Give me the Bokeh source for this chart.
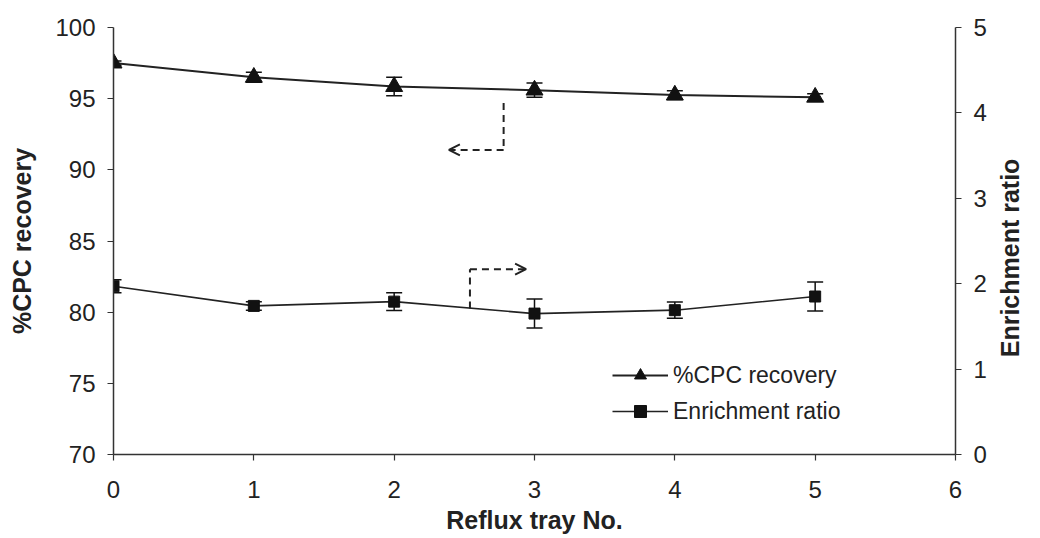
import math
from bokeh.plotting import figure
from bokeh.models import (Range1d, LinearAxis, Whisker, ColumnDataSource, Arrow,
                          OpenHead, Legend, LegendItem, FixedTicker)
from bokeh.embed import file_html
from bokeh.resources import INLINE

# ---- data ----
tray = [0, 1, 2, 3, 4, 5]
recovery = [97.5, 96.5, 95.85, 95.6, 95.25, 95.1]
recovery_err = [0.15, 0.35, 0.65, 0.5, 0.3, 0.25]
enrichment = [1.97, 1.74, 1.79, 1.65, 1.69, 1.85]
enrichment_err = [0.075, 0.05, 0.105, 0.17, 0.095, 0.17]
x_ticks = [0, 1, 2, 3, 4, 5, 6]
left_ticks = [70, 75, 80, 85, 90, 95, 100]
right_ticks = [0, 1, 2, 3, 4, 5]

FONT = "Liberation Sans"
INK = "#222222"

p = figure(width=1040, height=538, output_backend="svg", toolbar_location=None,
           x_range=Range1d(0, 6), y_range=Range1d(70, 100),
           min_border_left=113, min_border_right=85, min_border_top=27, min_border_bottom=84)
p.extra_y_ranges = {"right": Range1d(0, 5)}
p.grid.visible = False
p.outline_line_color = None
p.background_fill_color = "white"
p.border_fill_color = "white"

def style_axis(ax):
    ax.axis_line_color = "#333333"
    ax.axis_line_width = 1.5
    ax.major_tick_line_color = "#333333"
    ax.major_tick_line_width = 1.2
    ax.major_tick_out = 6
    ax.major_tick_in = 0
    ax.minor_tick_line_color = None
    ax.major_label_text_font = FONT
    ax.major_label_text_font_size = "24px"
    ax.major_label_text_color = INK
    ax.axis_label_text_font = FONT
    ax.axis_label_text_font_size = "25px"
    ax.axis_label_text_font_style = "bold"
    ax.axis_label_text_color = INK

p.xaxis.ticker = FixedTicker(ticks=x_ticks)
p.yaxis.ticker = FixedTicker(ticks=left_ticks)
p.xaxis.axis_label = "Reflux tray No."
p.yaxis.axis_label = "%CPC recovery"
style_axis(p.xaxis[0])
style_axis(p.yaxis[0])
p.xaxis.major_label_standoff = 20
p.xaxis.axis_label_standoff = 5
p.yaxis.major_label_standoff = 12
p.yaxis.axis_label_standoff = 16

# right axis title reads bottom-to-top; non-breaking spaces lift it to the reference position
ry = LinearAxis(y_range_name="right", axis_label="\u00a0" * 14 + "Enrichment ratio",
                ticker=FixedTicker(ticks=right_ticks))
style_axis(ry)
ry.major_label_standoff = 12
ry.axis_label_standoff = 20
ry.axis_label_orientation = math.pi / 2
ry.axis_label_align = "start"
p.add_layout(ry, "right")

src_r = ColumnDataSource(dict(x=tray, y=recovery,
                              lo=[v - e for v, e in zip(recovery, recovery_err)],
                              hi=[v + e for v, e in zip(recovery, recovery_err)]))
src_e = ColumnDataSource(dict(x=tray, y=enrichment,
                              lo=[v - e for v, e in zip(enrichment, enrichment_err)],
                              hi=[v + e for v, e in zip(enrichment, enrichment_err)]))

l1 = p.line("x", "y", source=src_r, line_color=INK, line_width=2)
w1 = Whisker(base="x", lower="lo", upper="hi", source=src_r, line_color="#111111", line_width=1.5)
w1.upper_head.size = 16; w1.lower_head.size = 16
w1.upper_head.line_width = 1.5; w1.lower_head.line_width = 1.5
w1.upper_head.line_color = "#111111"; w1.lower_head.line_color = "#111111"
p.add_layout(w1)
m1 = p.scatter("x", "y", source=src_r, marker="triangle", size=17, color="#111111")

l2 = p.line("x", "y", source=src_e, line_color=INK, line_width=1.6, y_range_name="right")
w2 = Whisker(base="x", lower="lo", upper="hi", source=src_e, line_color="#111111", line_width=1.5,
             y_range_name="right")
w2.upper_head.size = 16; w2.lower_head.size = 16
w2.upper_head.line_width = 1.5; w2.lower_head.line_width = 1.5
w2.upper_head.line_color = "#111111"; w2.lower_head.line_color = "#111111"
p.add_layout(w2)
m2 = p.scatter("x", "y", source=src_e, marker="square", size=11, color="#111111", y_range_name="right")

# dashed arrows pointing to the relevant axes
p.line([2.78, 2.78], [94.7, 91.4], line_dash="7 5", line_color=INK, line_width=2)
p.add_layout(Arrow(x_start=2.78, y_start=91.4, x_end=2.39, y_end=91.4,
                   line_dash="7 5", line_color=INK, line_width=2,
                   end=OpenHead(size=11, line_color=INK, line_width=2)))
p.line([2.54, 2.54], [1.71, 2.17], line_dash="7 5", line_color=INK, line_width=2,
       y_range_name="right")
p.add_layout(Arrow(x_start=2.54, y_start=2.17, x_end=2.94, y_end=2.17, y_range_name="right",
                   line_dash="7 5", line_color=INK, line_width=2,
                   end=OpenHead(size=11, line_color=INK, line_width=2)))

legend = Legend(items=[LegendItem(label="%CPC recovery", renderers=[l1, m1]),
                       LegendItem(label="Enrichment ratio", renderers=[l2, m2])],
                location=(499, 28), background_fill_alpha=0, border_line_color=None,
                padding=0, margin=0,
                label_text_font=FONT, label_text_font_size="23px", label_text_color=INK,
                glyph_width=56, glyph_height=30, label_height=30,
                spacing=6, label_standoff=5)
p.add_layout(legend)

open("out.html", "w").write(file_html(p, INLINE))
